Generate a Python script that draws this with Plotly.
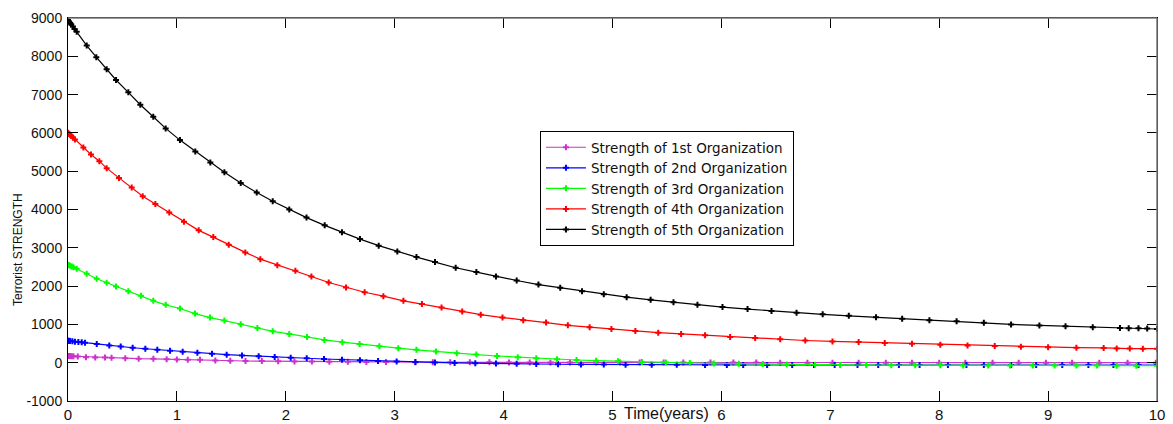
import plotly.graph_objects as go

# Strength of each organization over time (solver output points)
t_org1 = [0, 0.01, 0.02, 0.035, 0.05, 0.09, 0.165, 0.25, 0.34, 0.4, 0.526, 0.649, 0.784, 0.906,
          1.0, 1.1, 1.212, 1.353, 1.49, 1.63, 1.78, 1.93, 2.08, 2.24, 2.4, 2.57, 2.74, 2.92,
          3.19, 3.35, 3.51, 3.69, 3.87, 4.05, 4.24, 4.43, 4.61, 4.85, 5.07, 5.25, 5.47, 5.65,
          5.9, 6.11, 6.32, 6.54, 6.79, 7.02, 7.26, 7.51, 7.75, 8.0, 8.24, 8.49, 8.73, 8.98,
          9.22, 9.47, 9.73, 9.99]
org1 = [175, 174, 172, 170, 168, 160, 140, 138, 134, 131, 115, 105, 100, 90,
        86, 80, 75, 55, 50, 45, 42, 38, 34, 30, 27, 24, 20, 17,
        14, 12, 11, 10, 9, 8, 7, 6, 5, 5, 4, 4, 3, 3,
        2, 2, 2, 1, 1, 1, 1, 0, 0, 0, 0, 0, 0, 0,
        0, 0, 0, 0]

t_org2 = [0, 0.01, 0.018, 0.04, 0.064, 0.095, 0.126, 0.156, 0.264, 0.379, 0.484, 0.594, 0.71,
          0.82, 0.937, 1.053, 1.188, 1.322, 1.457, 1.598, 1.751, 1.898, 2.045, 2.192, 2.351,
          2.516, 2.681, 2.847, 3.018, 3.19, 3.37, 3.55, 3.74, 3.93, 4.12, 4.3, 4.5, 4.71,
          4.92, 5.12, 5.36, 5.59, 5.85, 6.05, 6.2, 6.42, 6.65, 6.85, 7.04, 7.25, 7.44, 7.63,
          7.82, 8.08, 8.25, 8.41, 8.66, 8.89, 9.13, 9.37, 9.6, 9.83, 10.0]
org2 = [576, 572, 568, 558, 548, 540, 532, 524, 490, 452, 422, 390, 364,
        340, 314, 288, 260, 232, 210, 190, 166, 148, 131, 116, 96,
        79, 61, 46, 32, 18, 6, -5, -15, -22, -30, -36, -40, -45,
        -49, -52, -54, -56, -57, -58, -59, -60, -60, -61, -61, -61, -62, -62,
        -62, -62, -62, -62, -62, -62, -62, -62, -62, -62, -62]

t_org3 = [0, 0.01, 0.02, 0.035, 0.05, 0.08, 0.172, 0.263, 0.355, 0.441, 0.554, 0.67, 0.783,
          0.897, 1.028, 1.166, 1.304, 1.436, 1.586, 1.739, 1.88, 2.032, 2.195, 2.354, 2.519,
          2.678, 2.859, 3.033, 3.2, 3.38, 3.57, 3.75, 3.94, 4.13, 4.3, 4.49, 4.67, 4.85,
          5.05, 5.27, 5.49, 5.71, 5.93, 6.16, 6.38, 6.6, 6.86, 7.09, 7.33, 7.56, 7.78, 8.01,
          8.22, 8.45, 8.65, 8.86, 9.06, 9.26, 9.45, 9.63, 9.81, 10.0]
org3 = [2558, 2545, 2532, 2513, 2495, 2452, 2322, 2191, 2086, 1990, 1866, 1746, 1615,
        1510, 1414, 1283, 1178, 1099, 1003, 908, 820, 751, 672, 594, 537,
        485, 430, 380, 335, 290, 250, 212, 175, 143, 115, 90, 70, 52,
        35, 20, 6, -8, -18, -28, -36, -45, -52, -57, -61, -64, -67, -69,
        -71, -72, -73, -74, -75, -76, -76, -77, -77, -78]

t_org4 = [0, 0.01, 0.02, 0.03, 0.045, 0.064, 0.141, 0.211, 0.288, 0.355, 0.468, 0.585, 0.686,
          0.802, 0.93, 1.065, 1.2, 1.334, 1.476, 1.628, 1.766, 1.922, 2.088, 2.235, 2.394,
          2.553, 2.724, 2.896, 3.08, 3.25, 3.43, 3.62, 3.79, 3.99, 4.18, 4.39, 4.59, 4.79,
          4.99, 5.21, 5.42, 5.63, 5.85, 6.08, 6.31, 6.54, 6.77, 7.02, 7.26, 7.5, 7.75, 8.01,
          8.26, 8.51, 8.75, 9.0, 9.26, 9.51, 9.63, 9.75, 9.87, 10.0]
org4 = [6003, 5975, 5948, 5921, 5880, 5830, 5620, 5437, 5262, 5079, 4825, 4573, 4346,
        4144, 3919, 3683, 3455, 3280, 3081, 2880, 2704, 2547, 2400, 2251, 2094,
        1963, 1840, 1736, 1615, 1530, 1440, 1340, 1255, 1178, 1107, 1047, 976, 924,
        882, 830, 785, 751, 715, 673, 645, 610, 580, 555, 538, 515, 492, 468,
        450, 435, 418, 405, 393, 385, 372, 368, 366, 366]

t_org5 = [0, 0.01, 0.02, 0.03, 0.045, 0.06, 0.08, 0.172, 0.26, 0.355, 0.441, 0.554, 0.664,
          0.783, 0.897, 1.028, 1.169, 1.307, 1.436, 1.586, 1.733, 1.88, 2.032, 2.19, 2.357,
          2.516, 2.681, 2.853, 3.024, 3.2, 3.37, 3.56, 3.75, 3.93, 4.12, 4.32, 4.52, 4.72,
          4.92, 5.13, 5.35, 5.56, 5.78, 6.01, 6.24, 6.46, 6.69, 6.93, 7.17, 7.42, 7.66, 7.91,
          8.16, 8.41, 8.66, 8.92, 9.16, 9.41, 9.66, 9.74, 9.83, 9.91, 10.0]
org5 = [8950, 8910, 8872, 8833, 8775, 8716, 8640, 8280, 7976, 7662, 7382, 7060, 6736,
        6422, 6118, 5812, 5515, 5228, 4974, 4694, 4442, 4215, 3997, 3788, 3586,
        3403, 3228, 3055, 2905, 2757, 2626, 2480, 2365, 2250, 2147, 2040, 1958, 1867,
        1785, 1710, 1641, 1579, 1512, 1452, 1400, 1350, 1305, 1262, 1225, 1185, 1150, 1110,
        1080, 1045, 1000, 972, 950, 925, 905, 900, 897, 895, 880]

names = ["Strength of 1st Organization", "Strength of 2nd Organization",
         "Strength of 3rd Organization", "Strength of 4th Organization",
         "Strength of 5th Organization"]
colors = ["#cc33cc", "#0000ff", "#00ff00", "#ff0000", "#000000"]
series = [(t_org1, org1), (t_org2, org2), (t_org3, org3), (t_org4, org4), (t_org5, org5)]

x_ticks = list(range(0, 11))
y_ticks = list(range(-1000, 9001, 1000))

fig = go.Figure()
for (t, v), name, c in zip(series, names, colors):
    fig.add_trace(go.Scatter(
        x=t, y=v, name=name, mode="lines+markers",
        line=dict(color=c, width=1.2),
        marker=dict(symbol="cross", size=5, color=c),
    ))

FAMILY = "Liberation Sans, Arial, sans-serif"
WIDE = "DejaVu Sans, Liberation Sans, sans-serif"
ink = "#111111"

fig.update_layout(
    width=1173, height=424,
    margin=dict(l=68, r=16, t=18, b=23),
    paper_bgcolor="white", plot_bgcolor="white",
    font=dict(family=FAMILY, size=13, color=ink),
    showlegend=True,
    legend=dict(
        x=0.4334, y=0.705, xanchor="left", yanchor="top",
        bgcolor="white", bordercolor="#000000", borderwidth=1,
        font=dict(family=WIDE, size=13.5, color=ink),
        itemwidth=40, tracegroupgap=0,
    ),
    xaxis=dict(
        range=[0, 10], tickvals=x_ticks, ticktext=[str(v) for v in x_ticks],
        showgrid=False, zeroline=False, automargin=False,
        showline=True, linecolor="#000000", linewidth=1, mirror="allticks",
        ticks="inside", ticklen=10, tickcolor="#000000",
        tickfont=dict(family=FAMILY, size=15, color=ink),
        ticklabelstandoff=0,
    ),
    yaxis=dict(
        range=[-1000, 9000], tickvals=y_ticks, ticktext=[str(v) for v in y_ticks],
        showgrid=False, zeroline=False, automargin=False,
        showline=True, linecolor="#000000", linewidth=1, mirror="allticks",
        ticks="inside", ticklen=10, tickcolor="#000000",
        tickfont=dict(family=FAMILY, size=14, color=ink),
        ticklabelstandoff=2,
    ),
    shapes=[
        # grey upper and right frame edges
        dict(type="line", xref="paper", yref="paper", x0=0, x1=1, y0=1, y1=1,
             line=dict(color="#7a7a7a", width=1.5)),
        dict(type="line", xref="paper", yref="paper", x0=1, x1=1, y0=0, y1=1,
             line=dict(color="#7a7a7a", width=1.5)),
    ],
    annotations=[
        dict(text="Time(years)", xref="paper", yref="paper",
             x=(666 - 68) / 1089, y=-(413 - 401) / 383,
             xanchor="center", yanchor="middle", showarrow=False,
             font=dict(family=FAMILY, size=16, color=ink)),
        dict(text="Terrorist STRENGTH", xref="paper", yref="paper",
             x=-(68 - 18) / 1089, y=(401 - 250) / 383, textangle=-90,
             xanchor="center", yanchor="middle", showarrow=False,
             font=dict(family=FAMILY, size=12, color=ink)),
    ],
)

fig.write_html("out.html")
